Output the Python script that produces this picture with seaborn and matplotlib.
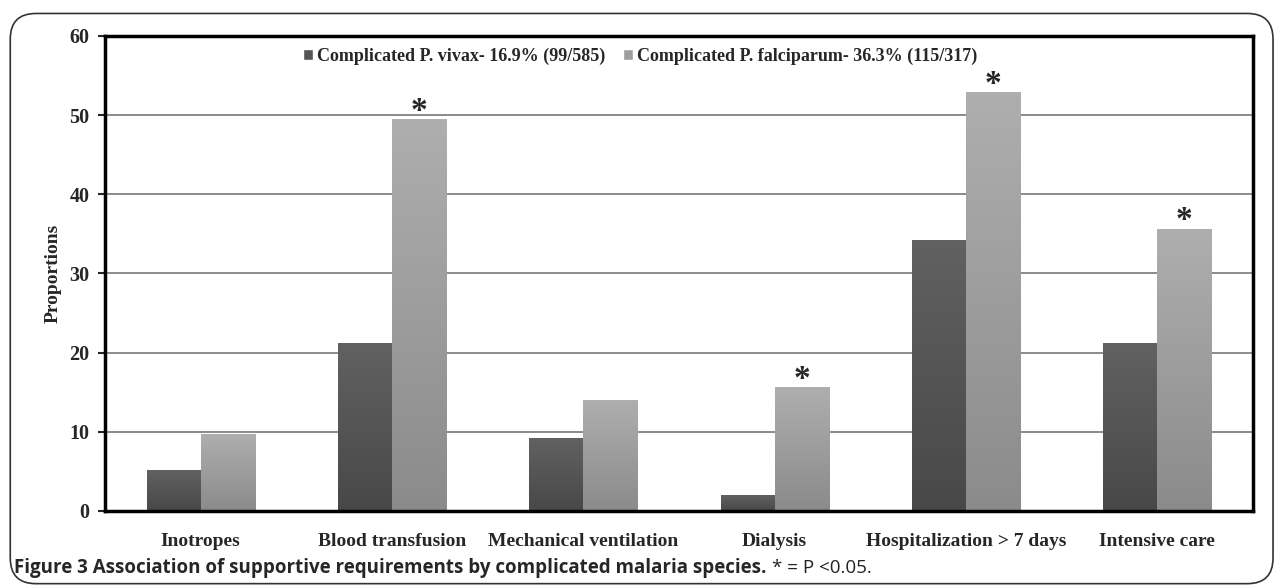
import numpy as np
import pandas as pd
import matplotlib
matplotlib.use('Agg')
import matplotlib.pyplot as plt
import seaborn as sns
from matplotlib.patches import FancyBboxPatch
from matplotlib.colors import LinearSegmentedColormap

# data
categories = ['Inotropes', 'Blood transfusion', 'Mechanical ventilation',
              'Dialysis', 'Hospitalization > 7 days', 'Intensive care']
vivax = [5.1, 21.1, 9.1, 1.9, 34.2, 21.1]
falciparum = [9.6, 49.4, 13.9, 15.6, 52.8, 35.6]
significant = [False, True, False, True, True, True]
series_names = ['Complicated P. vivax- 16.9% (99/585)',
                'Complicated P. falciparum- 36.3% (115/317)']

df = pd.DataFrame({
    'Requirement': categories * 2,
    'Proportion': vivax + falciparum,
    'Group': [series_names[0]] * len(categories) + [series_names[1]] * len(categories),
})

sns.set_style('white')
plt.rcParams['font.family'] = ['Liberation Serif', 'DejaVu Serif']

fig = plt.figure(figsize=(12.82, 5.86), dpi=100)
ax = fig.add_axes([0.0819, 0.128, 0.8955, 0.8106])

palette = {series_names[0]: '#555555', series_names[1]: '#9e9e9e'}
sns.barplot(data=df, x='Requirement', y='Proportion', hue='Group',
            order=categories, hue_order=series_names, palette=palette,
            width=0.565, gap=0, saturation=1, ax=ax, zorder=3)

# gradient fills for the bars
grads = {
    series_names[0]: LinearSegmentedColormap.from_list('v', ['#484848', '#616161']),
    series_names[1]: LinearSegmentedColormap.from_list('f', ['#8b8b8b', '#aeaeae']),
}
bars = [p for p in ax.patches if p.get_height() > 0]
n = len(categories)
for i, p in enumerate(bars[:2 * n]):
    grp = series_names[i // n]
    x0, w, h = p.get_x(), p.get_width(), p.get_height()
    grad = np.linspace(0, 1, 100).reshape(-1, 1)
    ax.imshow(grad, cmap=grads[grp], origin='lower', aspect='auto',
              extent=(x0, x0 + w, 0, h), zorder=3)
    p.set_facecolor('none')
    p.set_edgecolor('none')

ax.set_xlim(-0.5, n - 0.5)
ax.set_ylim(0, 60)
ax.set_yticks(range(0, 61, 10))
ax.yaxis.grid(True, color='#8a8a8a', linewidth=1.4, zorder=1)
ax.set_axisbelow(True)
for s in ax.spines.values():
    s.set_visible(True)
    s.set_color('black')
    s.set_linewidth(2.5)
    s.set_zorder(5)

ax.tick_params(axis='y', which='major', direction='out', length=5, width=1.5,
               left=True, labelsize=14.5, pad=6)
ax.tick_params(axis='x', bottom=False, labelsize=14, pad=12)
for lab in ax.get_xticklabels() + ax.get_yticklabels():
    lab.set_fontweight('bold')
ax.set_xlabel('')
ax.set_ylabel('Proportions', fontsize=14, fontweight='bold', labelpad=6)

# significance markers
for i, sig in enumerate(significant):
    if sig:
        ax.text(i + 0.1413, falciparum[i] - 0.9, '*', ha='center', va='bottom',
                fontsize=24, fontweight='bold', zorder=6)

leg = ax.legend(loc='upper center', bbox_to_anchor=(0.466, 1.01), ncol=2,
                frameon=False, handlelength=0.55, handleheight=0.55,
                handletextpad=0.2, columnspacing=1.0,
                prop={'weight': 'bold', 'size': 13, 'family': 'Liberation Serif'})

# border and caption
fig.patches.append(FancyBboxPatch((0.008, 0.004), 0.985, 0.973,
                                  boxstyle='round,pad=0,rounding_size=0.02',
                                  transform=fig.transFigure, fill=False,
                                  edgecolor='#333333', linewidth=1.2,
                                  mutation_aspect=1282 / 586))
t1 = fig.text(0.011, 0.03,
              'Figure 3 Association of supportive requirements by complicated malaria species.',
              fontsize=13.5, fontweight='bold', family='Open Sans', va='center')
fig.canvas.draw()
bb = t1.get_window_extent()
fig.text(bb.x1 / fig.bbox.width + 0.004, 0.03, '* = P <0.05.', fontsize=13.5,
         family='Open Sans', va='center', color='#222222')

fig.savefig('out.png', dpi=100)
